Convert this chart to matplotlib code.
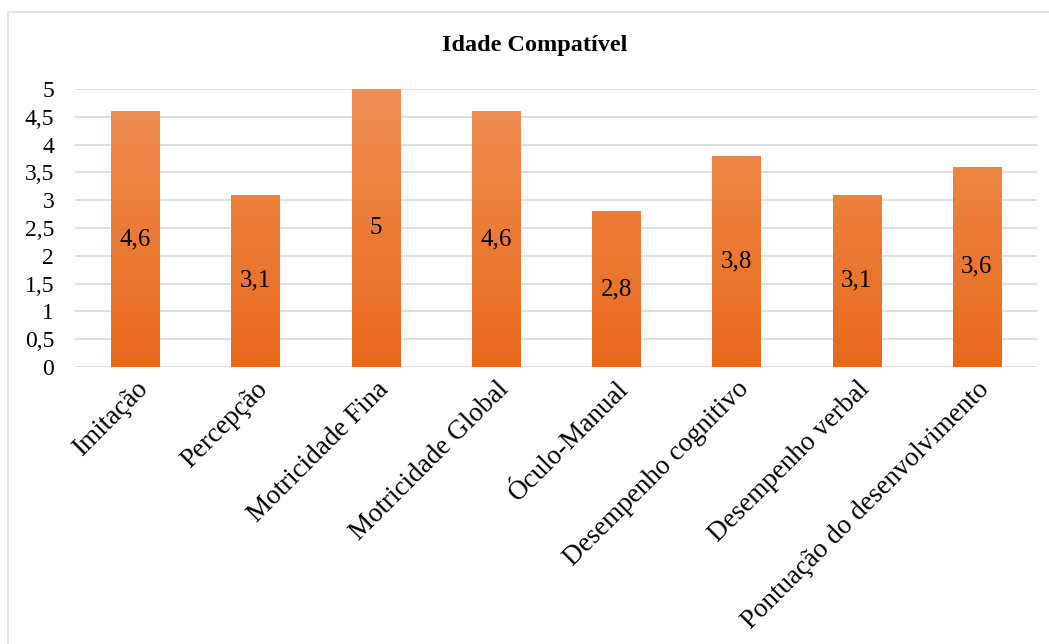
import numpy as np
import matplotlib.pyplot as plt
from matplotlib.colors import LinearSegmentedColormap

categorias = ['Imitação', 'Percepção', 'Motricidade Fina', 'Motricidade Global',
              'Óculo-Manual', 'Desempenho cognitivo', 'Desempenho verbal',
              'Pontuação do desenvolvimento']
valores = [4.6, 3.1, 5, 4.6, 2.8, 3.8, 3.1, 3.6]
rotulos = ['4,6', '3,1', '5', '4,6', '2,8', '3,8', '3,1', '3,6']
yticks = [0, 0.5, 1, 1.5, 2, 2.5, 3, 3.5, 4, 4.5, 5]
ytick_labels = ['0', '0,5', '1', '1,5', '2', '2,5', '3', '3,5', '4', '4,5', '5']

plt.rcParams['font.family'] = ['Liberation Serif', 'DejaVu Serif']

fig = plt.figure(figsize=(10.49, 6.44), dpi=100)
W, H = 1049, 644
ax = fig.add_axes([75 / W, 1 - 367 / H, 962 / W, 278 / H])

# moldura clara do gráfico
fig.add_artist(plt.Line2D([8 / W, 8 / W], [0, 1 - 12 / H], color='#e4e4e4', lw=1.5))
fig.add_artist(plt.Line2D([8 / W, 1], [1 - 12 / H, 1 - 12 / H], color='#e4e4e4', lw=1.5))

x = np.arange(len(categorias))
bars = ax.bar(x, valores, width=0.4, color='none', zorder=2)

cmap = LinearSegmentedColormap.from_list('laranja', ['#e8691a', '#f08f55'])
grad = np.linspace(0, 1, 256).reshape(-1, 1)
for b in bars:
    bx, bw = b.get_x(), b.get_width()
    im = ax.imshow(grad, cmap=cmap, aspect='auto', origin='lower',
                   extent=[bx, bx + bw, 0, 5], zorder=2)
    im.set_clip_path(b)

for xi, v, r in zip(x, valores, rotulos):
    ax.text(xi, v / 2, r, ha='center', va='center', fontsize=18, color='black', zorder=3)

ax.set_xlim(-0.5, len(categorias) - 0.5)
ax.set_ylim(0, 5)
ax.set_yticks(yticks)
ax.set_yticklabels(ytick_labels, fontsize=17)
ax.set_xticks(x)
ax.set_xticklabels(categorias, rotation=45, ha='right', rotation_mode='anchor', fontsize=19.5)
ax.tick_params(length=0, pad=7)
ax.tick_params(axis='y', pad=15)
ax.grid(axis='y', color='#d9d9d9', lw=1.2, zorder=0)
ax.set_axisbelow(True)
for s in ax.spines.values():
    s.set_visible(False)

fig.text(535 / W, 1 - 46 / H, 'Idade Compatível', ha='center', va='center',
         fontsize=17.5, fontweight='bold')

fig.savefig('out.png', dpi=100)
